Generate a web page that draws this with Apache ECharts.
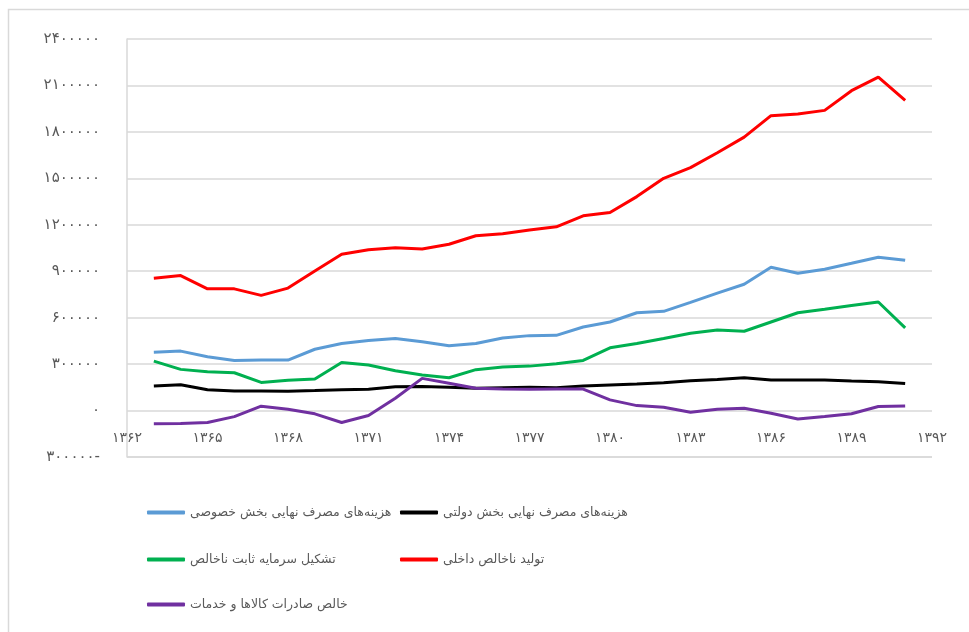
<!DOCTYPE html>
<html>
<head>
<meta charset="utf-8">
<script src="https://cdn.jsdelivr.net/npm/echarts@6/dist/echarts.min.js"></script>
<style>
  html, body { margin: 0; padding: 0; background: #fff; }
  #main { width: 969px; height: 632px; }
</style>
</head>
<body>
<div id="main"></div>
<script>
// سال‌ها و مقادیر سری‌ها
var years = [1363, 1364, 1365, 1366, 1367, 1368, 1369, 1370, 1371, 1372, 1373, 1374, 1375, 1376, 1377,
  1378, 1379, 1380, 1381, 1382, 1383, 1384, 1385, 1386, 1387, 1388, 1389, 1390, 1391];

var privateCons = [377000, 384000, 347000, 324000, 326000, 326000, 396000, 433000, 452000, 465000, 444000, 418000, 433000, 469000, 484000,
  486000, 540000, 572000, 632000, 641000, 699000, 759000, 816000, 926000, 887000, 913000, 951000, 990000, 971000];
var govCons = [159000, 167000, 135000, 126000, 126000, 124000, 129000, 135000, 137000, 154000, 156000, 150000, 144000, 148000, 150000,
  148000, 159000, 165000, 171000, 180000, 193000, 201000, 212000, 197000, 197000, 197000, 191000, 186000, 174000];
var grossCapital = [319000, 266000, 251000, 244000, 182000, 195000, 204000, 311000, 294000, 257000, 229000, 212000, 264000, 281000, 287000,
  302000, 324000, 405000, 433000, 465000, 499000, 521000, 512000, 572000, 632000, 654000, 679000, 701000, 534000];
var gdp = [855000, 872000, 786000, 786000, 744000, 791000, 902000, 1009000, 1039000, 1052000, 1044000, 1074000, 1129000, 1142000, 1166000,
  1187000, 1258000, 1279000, 1382000, 1500000, 1569000, 1665000, 1766000, 1905000, 1916000, 1939000, 2066000, 2154000, 2004000];
var netExports = [-86000, -84000, -77000, -39000, 28000, 9000, -21000, -77000, -32000, 79000, 208000, 176000, 144000, 139000, 137000,
  139000, 139000, 69000, 32000, 21000, -11000, 9000, 15000, -17000, -54000, -39000, -21000, 26000, 30000];

var seriesNames = [
  'هزینه‌های مصرف نهایی بخش خصوصی',
  'هزینه‌های مصرف نهایی بخش دولتی',
  'تشکیل سرمایه ثابت ناخالص',
  'تولید ناخالص داخلی',
  'خالص صادرات کالاها و خدمات'
];
var seriesData = [privateCons, govCons, grossCapital, gdp, netExports];
var colors = ['#5b9bd5', '#000000', '#00b050', '#ff0000', '#7030a0'];

var faDigits = '۰۱۲۳۴۵۶۷۸۹';
function toFa(n) {
  var s = String(Math.abs(n)).replace(/\d/g, function (d) { return faDigits[d]; });
  return n < 0 ? s + '-' : s;
}

var textColor = '#595959';
var gridColor = '#d9d9d9';
var font = 'DejaVu Sans';

var chart = echarts.init(document.getElementById('main'));

// هر آیتم راهنما جداگانه جای‌گذاری می‌شود
var legendPos = [
  { left: 147, top: 506 },
  { left: 400, top: 506 },
  { left: 147, top: 553 },
  { left: 400, top: 553 },
  { left: 147, top: 598 }
];
var legends = seriesNames.map(function (name, i) {
  return {
    data: [name],
    left: legendPos[i].left,
    top: legendPos[i].top,
    icon: 'roundRect',
    itemWidth: 38,
    itemHeight: 4,
    itemGap: 0,
    padding: 0,
    selectedMode: false,
    textStyle: { color: textColor, fontSize: 12.5, fontFamily: font }
  };
});

var option = {
  backgroundColor: '#fff',
  animation: false,
  color: colors,
  graphic: [{
    type: 'rect',
    shape: { x: 8.5, y: 9.5, width: 1100, height: 800 },
    style: { fill: 'none', stroke: gridColor, lineWidth: 1.5 },
    silent: true
  }, {
    // خط پایین ناحیه نمودار
    type: 'line',
    shape: { x1: 127, y1: 457, x2: 932, y2: 457 },
    style: { stroke: gridColor, lineWidth: 1.5 },
    silent: true
  }],
  legend: legends,
  grid: { left: 127, right: 37, top: 39, bottom: 175 },
  xAxis: {
    type: 'value',
    min: 1362,
    max: 1392,
    interval: 3,
    position: 'bottom',
    offset: -46,
    axisLine: { show: false, onZero: false },
    axisTick: { show: false },
    splitLine: { show: false },
    axisLabel: {
      margin: 20,
      showMinLabel: true,
      showMaxLabel: true,
      color: textColor,
      fontSize: 14,
      fontFamily: font,
      formatter: function (v) { return toFa(v); }
    }
  },
  yAxis: {
    type: 'value',
    min: -300000,
    max: 2400000,
    interval: 300000,
    axisLine: { show: true, onZero: false, lineStyle: { color: gridColor, width: 1.5 } },
    axisTick: { show: false },
    splitLine: { show: true, lineStyle: { color: gridColor, width: 1.5 } },
    axisLabel: {
      margin: 27,
      color: textColor,
      fontSize: 15,
      fontFamily: font,
      formatter: function (v) { return toFa(v); }
    }
  },
  series: seriesData.map(function (vals, i) {
    return {
      name: seriesNames[i],
      type: 'line',
      symbol: 'none',
      lineStyle: { width: 3, color: colors[i] },
      data: years.map(function (y, k) { return [y, vals[k]]; })
    };
  })
};

chart.setOption(option);
</script>
</body>
</html>
